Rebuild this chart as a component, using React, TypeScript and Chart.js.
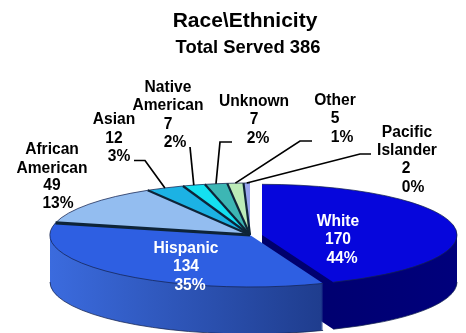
import { useEffect, useRef } from "react";
import { Chart, registerables } from "chart.js";

Chart.register(...registerables);

const categories = ["White", "Hispanic", "African American", "Asian", "Native American", "Unknown", "Other", "Pacific Islander"];
const served = [170, 134, 49, 12, 7, 7, 5, 2];
const shares = ["44%", "35%", "13%", "3%", "2%", "2%", "1%", "0%"];
const topColors = ["#0606DC", "#2E5FE2", "#93BDF0", "#1CB2E4", "#14E0F0", "#3DB6B4", "#BCEBB8", "#98A4EE"];
const sideLight = ["#00007C", "#3B6BDE", "#5C86C8", "#107AA0", "#0C9AA8", "#25807E", "#80A880", "#6670B0"];
const sideDark = ["#000058", "#1F3D8E", "#5C86C8", "#107AA0", "#0C9AA8", "#25807E", "#80A880", "#6670B0"];

const SQUASH = 0.26;
const DEPTH = 47;
const RADIUS = 200;
const CENTER_X = 250;
const CENTER_Y = 235;
const EXPLODE_X = 12;
const EXPLODED_RADIUS = 195;
const FONT = '"Liberation Sans", Arial, sans-serif';

type Line = [string, number, number];

// Hand-placed text, one entry per line: content, centre x, middle y.
const headings: { text: string; x: number; y: number; size: number }[] = [
  { text: "Race\\Ethnicity", x: 245, y: 21, size: 21 },
  { text: "Total Served 386", x: 248, y: 48, size: 18.4 },
];
const calloutLines: Line[] = [
  ["African", 52, 150], ["American", 52, 169], [String(served[2]), 52, 186], [shares[2], 58, 204],
  ["Asian", 114, 120], [String(served[3]), 114, 139], [shares[3], 119, 157],
  ["Native", 168, 88], ["American", 168, 106], [String(served[4]), 168, 125], [shares[4], 175, 143],
  ["Unknown", 254, 102], [String(served[5]), 254, 120], [shares[5], 258, 139],
  ["Other", 335, 101], [String(served[6]), 335, 119], [shares[6], 342, 138],
  ["Pacific", 407, 133], ["Islander", 407, 151], [String(served[7]), 406, 169], [shares[7], 413, 188],
];
const insideLines: Line[] = [
  ["White", 338, 222], [String(served[0]), 338, 240], [shares[0], 342, 259],
  ["Hispanic", 186, 249], [String(served[1]), 186, 267], [shares[1], 190, 286],
];
// Leader elbows keyed by slice index; the last point is taken from the slice rim.
const leaders: Record<number, [number, number][]> = {
  3: [[134, 160.5], [145, 160.5]],
  4: [[190, 147]],
  5: [[232, 142], [220, 142]],
  6: [[312, 141], [300, 141]],
  7: [[371, 154], [360, 154]],
};

const pieDepth = {
  id: "pieDepth",
  afterDatasetsUpdate(chart: any) {
    // Pull the first slice away from the rest of the pie.
    const first = chart.getDatasetMeta(0).data[0];
    first.x += EXPLODE_X;
    first.outerRadius = EXPLODED_RADIUS;
  },
  beforeDatasetsDraw(chart: any) {
    const ctx = chart.ctx;
    const arcs = chart.getDatasetMeta(0).data;
    const cx = arcs[1].x;
    const cy = arcs[1].y;
    const order = [0, 2, 3, 4, 5, 6, 7, 1];
    for (let d = DEPTH; d >= 1; d--) {
      for (const i of order) {
        const grad = ctx.createLinearGradient(50, 0, i === 0 ? 457 : 320, 0);
        if (i === 0) {
          grad.addColorStop(0, sideDark[i]);
          grad.addColorStop(1, sideLight[i]);
        } else {
          grad.addColorStop(0, sideLight[i]);
          grad.addColorStop(1, sideDark[i]);
        }
        const arc = arcs[i];
        const original = arc.options;
        arc.options = Object.assign(Object.create(original), { backgroundColor: grad, borderWidth: 0 });
        ctx.save();
        ctx.translate(cx, cy + d);
        ctx.scale(1, SQUASH);
        ctx.translate(-cx, -cy);
        arc.draw(ctx);
        ctx.restore();
        arc.options = original;
      }
    }
    ctx.save();
    ctx.translate(cx, cy);
    ctx.scale(1, SQUASH);
    ctx.translate(-cx, -cy);
  },
  afterDatasetsDraw(chart: any) {
    const ctx = chart.ctx;
    ctx.restore();
    const arcs = chart.getDatasetMeta(0).data;

    // Rim outlines follow each slice in screen space, so their width stays even.
    ctx.strokeStyle = "rgba(20,35,80,0.75)";
    ctx.lineWidth = 1;
    arcs.forEach((arc: any) => {
      ctx.beginPath();
      ctx.ellipse(arc.x, arc.y, arc.outerRadius, arc.outerRadius * SQUASH, 0, arc.startAngle, arc.endAngle);
      ctx.stroke();
      const from = Math.max(arc.startAngle, 0);
      const to = Math.min(arc.endAngle, Math.PI);
      if (from < to) {
        ctx.beginPath();
        ctx.ellipse(arc.x, arc.y + DEPTH, arc.outerRadius, arc.outerRadius * SQUASH, 0, from, to);
        ctx.stroke();
      }
    });

    // Dark seams between the slices on the top face.
    for (let i = 2; i < arcs.length; i++) {
      const arc = arcs[i];
      const a = arc.startAngle;
      ctx.beginPath();
      ctx.moveTo(arc.x, arc.y);
      ctx.lineTo(arc.x + Math.cos(a) * arc.outerRadius, arc.y + Math.sin(a) * arc.outerRadius * SQUASH);
      ctx.strokeStyle = "#0E2438";
      ctx.lineWidth = i === 2 ? 3.2 : 2.2;
      ctx.stroke();
    }

    // Leader lines run from the callout elbows to the rim of their slice.
    ctx.strokeStyle = "#000000";
    ctx.lineWidth = 1.7;
    Object.keys(leaders).forEach((key) => {
      const i = Number(key);
      const arc = arcs[i];
      const mid = (arc.startAngle + arc.endAngle) / 2;
      ctx.beginPath();
      leaders[i].forEach(([x, y], n) => (n ? ctx.lineTo(x, y) : ctx.moveTo(x, y)));
      ctx.lineTo(arc.x + Math.cos(mid) * arc.outerRadius, arc.y + Math.sin(mid) * arc.outerRadius * SQUASH);
      ctx.stroke();
    });

    ctx.textAlign = "center";
    ctx.textBaseline = "middle";
    ctx.fillStyle = "#000000";
    headings.forEach((h) => {
      ctx.font = `bold ${h.size}px ${FONT}`;
      ctx.fillText(h.text, h.x, h.y);
    });
    ctx.font = `bold 15.6px ${FONT}`;
    calloutLines.forEach(([t, x, y]) => ctx.fillText(t, x, y));
    ctx.fillStyle = "#FFFFFF";
    insideLines.forEach(([t, x, y]) => ctx.fillText(t, x, y));
  },
};

export default function App() {
  const ref = useRef<HTMLCanvasElement>(null);

  useEffect(() => {
    const chart = new Chart(ref.current as HTMLCanvasElement, {
      type: "pie",
      data: {
        labels: categories,
        datasets: [
          {
            data: served,
            backgroundColor: topColors,
            borderWidth: 0,
            clip: false,
          } as any,
        ],
      },
      options: {
        responsive: false,
        animation: false,
        radius: RADIUS,
        layout: {
          padding: { left: CENTER_X * 2 - 466, top: CENTER_Y * 2 - 333, right: 0, bottom: 0 },
        },
        plugins: { legend: { display: false }, title: { display: false }, tooltip: { enabled: false } },
      } as any,
      plugins: [pieDepth],
    });
    return () => chart.destroy();
  }, []);

  return (
    <div style={{ position: "absolute", left: 0, top: 0, width: 466, height: 333, overflow: "hidden", background: "#fff" }}>
      <canvas ref={ref} width={466} height={333} style={{ display: "block" }} />
    </div>
  );
}
